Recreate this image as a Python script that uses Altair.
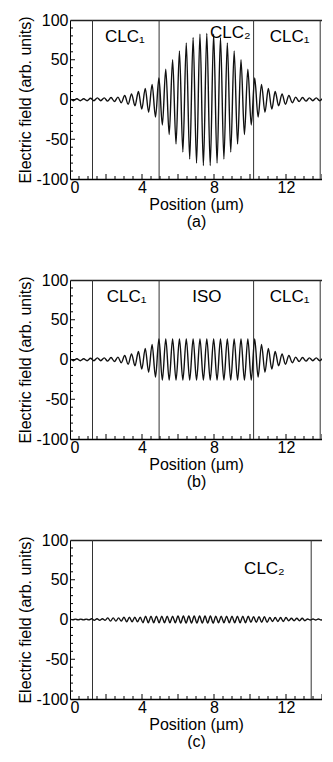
import altair as alt
import pandas as pd

FONT = "Liberation Sans"

# ---- data ----
# extremum positions (µm) used for panels (a) and (b)
pos_ab = [0.00, 0.19, 0.38, 0.57, 0.76, 0.95, 1.14, 1.33, 1.52, 1.71,
          1.90, 2.09, 2.28, 2.47, 2.66, 2.85, 3.04, 3.23, 3.42, 3.61,
          3.80, 3.99, 4.18, 4.37, 4.56, 4.75, 4.94, 5.13, 5.32, 5.51,
          5.70, 5.89, 6.08, 6.27, 6.46, 6.65, 6.84, 7.03, 7.22, 7.41,
          7.60, 7.79, 7.98, 8.17, 8.36, 8.55, 8.74, 8.93, 9.12, 9.31,
          9.50, 9.69, 9.88, 10.07, 10.26, 10.45, 10.64, 10.83, 11.02, 11.21,
          11.40, 11.59, 11.78, 11.97, 12.16, 12.35, 12.54, 12.73, 12.92, 13.11,
          13.30, 13.49, 13.68, 13.87, 14.06, 14.25, 14.44]

field_a = [1, -1.5, 1, -1.5, 1, -1.5, 1.5, -1.5, 2, -1.5,
           2, -2, 2.5, -2.5, 3, -4, 5, -6, 7, -8,
           10, -12, 14, -16, 19, -22, 27, -32, 38, -44,
           50, -56, 61, -66, 71, -75, 78, -80, 82, -83,
           83, -83, 82, -80, 78, -75, 71, -66, 61, -56,
           50, -44, 38, -32, 27, -22, 19, -16, 14, -12,
           10, -8, 7, -6, 5, -4, 3, -2.5, 2.5, -2,
           2, -1.5, 2, -1.5, 1, -1.5, 1]

field_b = [1, -1.5, 1, -1.5, 1, -1.5, 1.5, -1.5, 2, -1.5,
           2, -2, 2.5, -2.5, 3, -4, 5, -6, 7, -8,
           10, -12, 14, -16, 19, -22, 26, -26, 26, -26,
           26, -26, 26, -26, 26, -26, 26, -26, 26, -26,
           26, -26, 26, -26, 26, -26, 26, -26, 26, -26,
           26, -26, 26, -26, 26, -22, 19, -16, 14, -12,
           10, -8, 7, -6, 5, -4, 3, -2.5, 2.5, -2,
           2, -1.5, 2, -1.5, 1, -1.5, 1]

pos_c = [0.00, 0.15, 0.30, 0.45, 0.60, 0.75, 0.90, 1.05, 1.20, 1.35,
         1.50, 1.65, 1.80, 1.95, 2.10, 2.25, 2.40, 2.55, 2.70, 2.85,
         3.00, 3.15, 3.30, 3.45, 3.60, 3.75, 3.90, 4.05, 4.20, 4.35,
         4.50, 4.65, 4.80, 4.95, 5.10, 5.25, 5.40, 5.55, 5.70, 5.85,
         6.00, 6.15, 6.30, 6.45, 6.60, 6.75, 6.90, 7.05, 7.20, 7.35,
         7.50, 7.65, 7.80, 7.95, 8.10, 8.25, 8.40, 8.55, 8.70, 8.85,
         9.00, 9.15, 9.30, 9.45, 9.60, 9.75, 9.90, 10.05, 10.20, 10.35,
         10.50, 10.65, 10.80, 10.95, 11.10, 11.25, 11.40, 11.55, 11.70, 11.85,
         12.00, 12.15, 12.30, 12.45, 12.60, 12.75, 12.90, 13.05, 13.20, 13.35,
         13.50, 13.65, 13.80, 13.95, 14.10, 14.25, 14.40]

field_c = [0.5, -0.5, 0.5, -0.5, 0.5, -0.5, 0.5, -0.5, 1, -1,
           1, -1, 1, -1, 2, -2, 2, -2, 2, -2,
           3, -3, 3, -3, 3, -3, 3, -4, 4, -4,
           4, -4, 4, -4, 4, -4, 4, -4, 4, -4,
           4.5, -4.5, 4.5, -4.5, 4.5, -4.5, 4.5, -4.5, 4.5, -4.5,
           4.5, -4.5, 4.5, -4.5, 4, -4, 4, -4, 4, -4,
           4, -4, 4, -4, 4, -4, 4, -3.5, 3.5, -3.5,
           3.5, -3.5, 3.5, -3.5, 2.5, -2.5, 2.5, -2.5, 2.5, -2.5,
           2.5, -1.5, 1.5, -1.5, 1.5, -1.5, 1.5, -1.5, 0.7, -0.7,
           0.7, -0.7, 0.7, -0.7, 0.7, -0.7, 0.7]

bounds_a = [1.25, 4.95, 10.2, 13.9]
bounds_b = [1.25, 4.95, 10.2, 13.9]
bounds_c = [1.25, 13.4]

text_a = ["CLC₁", "CLC₂", "CLC₁"]
tx_a = [3.05, 8.9, 12.2]
ty_a = [78, 84, 78]
text_b = ["CLC₁", "ISO", "CLC₁"]
tx_b = [3.15, 7.6, 12.2]
ty_b = [78, 78, 78]
text_c = ["CLC₂"]
tx_c = [10.8]
ty_c = [64]

x_labels = [0, 4, 8, 12]
y_labels = [-100, -50, 0, 50, 100]
x_minor = [0.5, 1, 1.5, 2.5, 3, 3.5, 4.5, 5, 5.5, 6.5, 7, 7.5,
           8.5, 9, 9.5, 10.5, 11, 11.5, 12.5, 13, 13.5]
x_major = [2, 4, 6, 8, 10, 12, 14]
y_minor = [-90, -80, -70, -60, -40, -30, -20, -10,
           10, 20, 30, 40, 60, 70, 80, 90]
y_major = [-50, 0, 50]

PX_PER_UM = 18.0
W, H = 252, 159
XMAX = W / PX_PER_UM
FS = 16
LBL = "'' + datum.value"


def panel(pos, field, bounds, tx, ty, tt, caption):
    xs = alt.Scale(domain=[0, XMAX], nice=False, zero=False)
    ys = alt.Scale(domain=[-100, 100], nice=False)
    wave = pd.DataFrame({"x": pos, "e": field})
    line = alt.Chart(wave).mark_line(
        color="#111111", strokeWidth=1.4, interpolate="monotone", clip=True
    ).encode(
        x=alt.X("x:Q", scale=xs, axis=alt.Axis(
            orient="bottom", values=x_labels, ticks=False, grid=False,
            labelPadding=0, labelFontSize=FS, labelFont=FONT, labelExpr=LBL,
            title=["Position (µm)", caption], titleFont=FONT,
            titleFontSize=FS, titleFontWeight="normal", titleLineHeight=17,
            titlePadding=1, domainWidth=1.6, domainColor="black")),
        y=alt.Y("e:Q", scale=ys, axis=alt.Axis(
            orient="left", values=y_labels, ticks=False, grid=False,
            labelPadding=2, labelFontSize=FS, labelFont=FONT, labelExpr=LBL,
            title="Electric field (arb. units)", titleFont=FONT,
            titleFontSize=FS, titleFontWeight="normal", titlePadding=2,
            domainWidth=1, domainColor="black")),
    )
    rules = alt.Chart(pd.DataFrame({"b": bounds})).mark_rule(
        color="#333333", strokeWidth=1, clip=True
    ).encode(
        x=alt.X("b:Q", scale=xs, axis=None),
        y=alt.value(0), y2=alt.value(H),
    )
    texts = alt.Chart(pd.DataFrame({"x": tx, "y": ty, "t": tt})).mark_text(
        font=FONT, fontSize=17, color="black", baseline="middle", align="center"
    ).encode(
        x=alt.X("x:Q", scale=xs, axis=alt.Axis(
            orient="top", labels=False, ticks=False, domain=True,
            domainColor="#222222", domainWidth=1.3, grid=False, title=None)),
        y=alt.Y("y:Q", scale=ys, axis=None),
        text="t:N",
    )
    xt_min = alt.Chart(pd.DataFrame({"v": x_minor})).mark_rule(
        color="black", strokeWidth=1, clip=True
    ).encode(x=alt.X("v:Q", scale=xs, axis=None),
             y=alt.value(H), y2=alt.value(H - 3))
    xt_maj = alt.Chart(pd.DataFrame({"v": x_major})).mark_rule(
        color="black", strokeWidth=1, clip=True
    ).encode(x=alt.X("v:Q", scale=xs, axis=None),
             y=alt.value(H), y2=alt.value(H - 5))
    yt_min = alt.Chart(pd.DataFrame({"v": y_minor})).mark_rule(
        color="black", strokeWidth=1
    ).encode(y=alt.Y("v:Q", scale=ys, axis=None),
             x=alt.value(0), x2=alt.value(3))
    yt_maj = alt.Chart(pd.DataFrame({"v": y_major})).mark_rule(
        color="black", strokeWidth=1
    ).encode(y=alt.Y("v:Q", scale=ys, axis=None),
             x=alt.value(0), x2=alt.value(5))
    return alt.layer(rules, xt_min, xt_maj, yt_min, yt_maj, line, texts).resolve_axis(
        x="independent", y="independent"
    ).properties(width=W, height=H)


pa = panel(pos_ab, field_a, bounds_a, tx_a, ty_a, text_a, "(a)")
pb = panel(pos_ab, field_b, bounds_b, tx_b, ty_b, text_b, "(b)")
pc = panel(pos_c, field_c, bounds_c, tx_c, ty_c, text_c, "(c)")

chart = alt.vconcat(pa, pb, pc, spacing=43).properties(
    padding={"left": 9, "top": 4, "right": 0, "bottom": 0},
    background="white",
).configure_view(stroke=None).configure_axis(
    labelColor="black", titleColor="black"
)

chart.save("out.html", embed_options={"renderer": "svg", "actions": False})
